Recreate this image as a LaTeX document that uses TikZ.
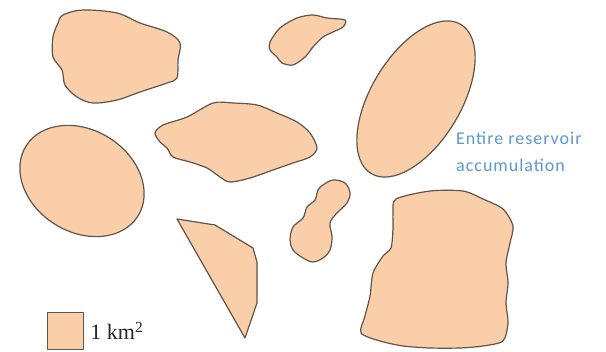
\documentclass[tikz,border=0pt]{standalone}
\usepackage{fontspec}
\setmainfont{Liberation Serif}
\newfontfamily\calib[LetterSpace=5.5]{Carlito}
\begin{document}
\begin{tikzpicture}[x=1pt,y=-1pt,
  region/.style={fill=peach, draw=edgecol, line width=1.2pt, line join=round},
  lbltext/.style={font=\calib\fontsize{18}{27}\selectfont, text=labelblue, align=left, inner sep=0pt},
  legtext/.style={font=\fontsize{22}{24}\selectfont, text=black!85, inner sep=0pt, anchor=west}]
\definecolor{peach}{RGB}{251,206,170}
\definecolor{edgecol}{RGB}{95,85,75}
\definecolor{labelblue}{RGB}{91,152,210}
\useasboundingbox[fill=white] (0,0) rectangle (606,352);

% top-left blob
\draw[region] plot[smooth cycle, tension=0.55] coordinates {
 (63,15) (83,10) (117,13) (140,23) (167,32) (180,43) (178,60) (177,78)
 (167,83) (140,92) (117,100) (93,103) (77,97) (65,85) (62,70) (53,57) (53,37) (58,23)};

% small top blob
\draw[region] plot[smooth cycle, tension=0.5] coordinates {
 (270,42) (280,28) (297,18) (313,15) (327,18) (345,20) (343,27) (333,32)
 (323,37) (313,47) (305,57) (293,65) (282,63) (277,57) (270,50)};

% big tilted ellipse
\draw[region] (416,99) ellipse[x radius=87, y radius=45, rotate=59];

% left ellipse
\draw[region] (82,181) ellipse[x radius=66, y radius=51, rotate=-32];

% middle blob
\draw[region] plot[smooth cycle, tension=0.5] coordinates {
 (155,133) (163,125) (187,117) (213,103) (233,103) (257,105) (277,113) (297,122)
 (310,133) (317,148) (310,157) (293,163) (273,170) (250,178) (230,182) (220,177)
 (207,168) (190,162) (173,157) (167,148) (160,142)};

% triangle
\draw[region] (177,219) -- (215,225) -- (253,248) -- (257,262) -- (257,303) -- (245,338) -- cycle;

% peanut blob
\draw[region] plot[smooth cycle, tension=0.55] coordinates {
 (323,185) (333,180) (345,183) (350,193) (347,203) (337,213) (330,223) (332,237)
 (330,250) (323,258) (313,262) (303,258) (293,250) (290,240) (293,227) (303,218)
 (307,207) (315,200) (318,190)};

% big right blob
\draw[region] plot[smooth cycle, tension=0.45] coordinates {
 (396,199) (430,191) (463,191) (483,199) (503,209) (513,226) (510,243) (506,263)
 (508,283) (506,303) (508,323) (503,341) (483,346) (460,348) (430,348) (403,346)
 (380,341) (361,333) (365,316) (370,296) (373,273) (383,256) (391,248) (393,229) (393,213)};

% label
\node[lbltext, anchor=base west] (lbl) at (456,172) {Entire reservoir\\accumulation};

% legend
\node[region, minimum width=36pt, minimum height=37pt, inner sep=0pt, anchor=north west] (leg) at (47,312) {};
\node[legtext] (legt) at ([xshift=6pt]leg.east) {1 km\textsuperscript{2}};
\end{tikzpicture}
\end{document}
